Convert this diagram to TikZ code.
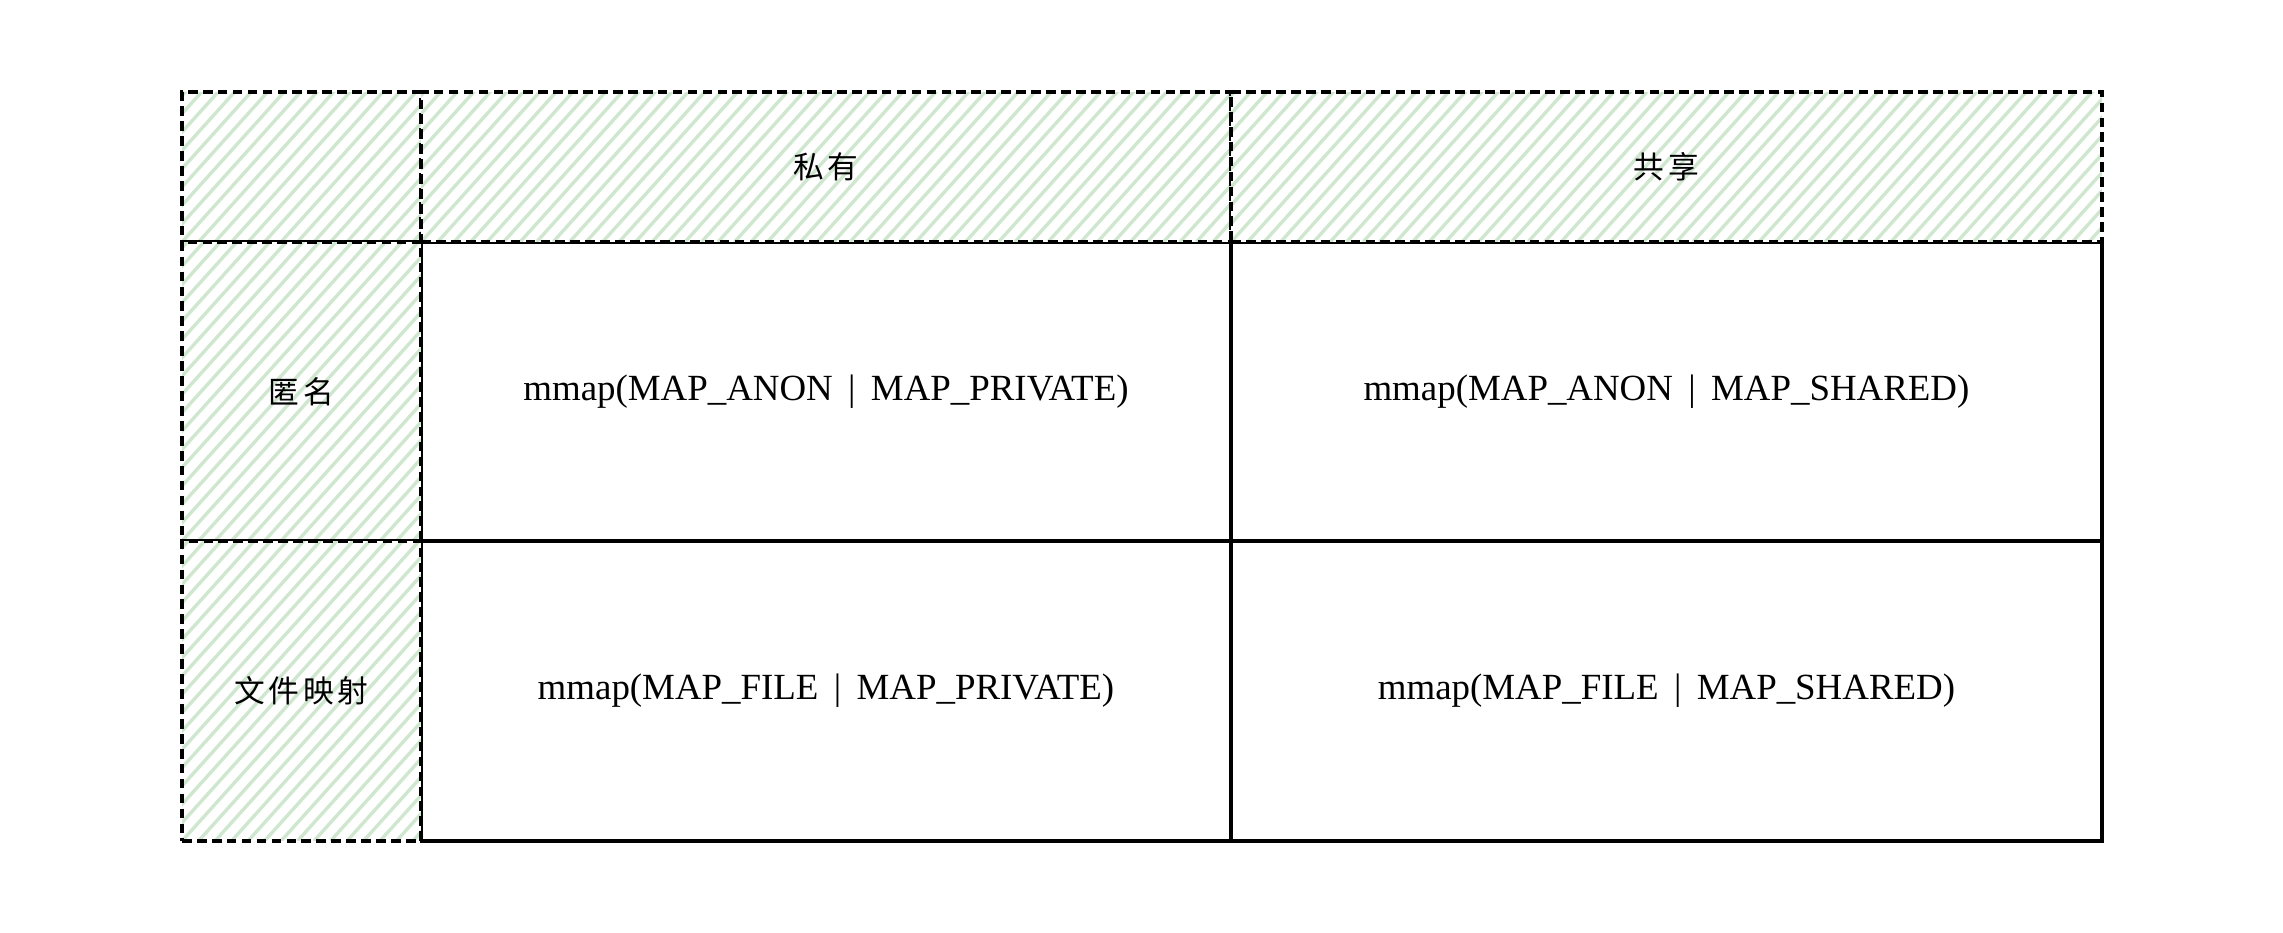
\documentclass[tikz,border=0pt]{standalone}
\usepackage{fontspec}
\setmainfont{Liberation Serif}
\newfontfamily\cjk[LetterSpace=12]{Noto Sans CJK SC}
\definecolor{hatchgreen}{HTML}{CFE6CF}
\tikzset{
	cell/.style 2 args={rectangle,inner sep=0pt,outer sep=0pt,minimum width=#1,minimum height=#2,line width=1.8pt},
	body/.style={draw,fill=white,font=\fontsize{21}{25}\selectfont},
	head/.style={draw,dash pattern=on 5.5pt off 3pt,line width=2pt,fill=white,font=\cjk\fontsize{17.5}{20}\selectfont,
		path picture={
			\foreach \k in {-20,...,56}
				\draw[hatchline] (path picture bounding box.south west) ++(\k*0.33cm,0) -- ++(48:10cm);
		}},
	hatchline/.style={hatchgreen,line width=1.9pt,solid}
}
\begin{document}
\begin{tikzpicture}[x=0.02cm,y=-0.02cm]
	\useasboundingbox (0,0) rectangle (2283,933);
	
	% body cells
	\node[cell={16.2cm}{5.98cm},body] (anonpriv) at (826,391.5) {mmap(MAP\_ANON \,|\, MAP\_PRIVATE)};
	\node[cell={17.42cm}{5.98cm},body] (anonshared) at (1666.5,391.5) {mmap(MAP\_ANON \,|\, MAP\_SHARED)};
	\node[cell={16.2cm}{6cm},body] (filepriv) at (826,691) {mmap(MAP\_FILE \,|\, MAP\_PRIVATE)};
	\node[cell={17.42cm}{6cm},body] (fileshared) at (1666.5,691) {mmap(MAP\_FILE \,|\, MAP\_SHARED)};
	
	% header row and left column
	\node[cell={4.78cm}{3cm},head] (corner) at (301.5,167) {};
	\node[cell={16.2cm}{3cm},head] (private) at (826,167) {私有};
	\node[cell={17.42cm}{3cm},head] (shared) at (1666.5,167) {共享};
	\node[cell={4.78cm}{5.98cm},head] (anon) at (301.5,391.5) {匿名};
	\node[cell={4.78cm}{6cm},head] (file) at (301.5,691) {文件映射};
	
\end{tikzpicture}
\end{document}
